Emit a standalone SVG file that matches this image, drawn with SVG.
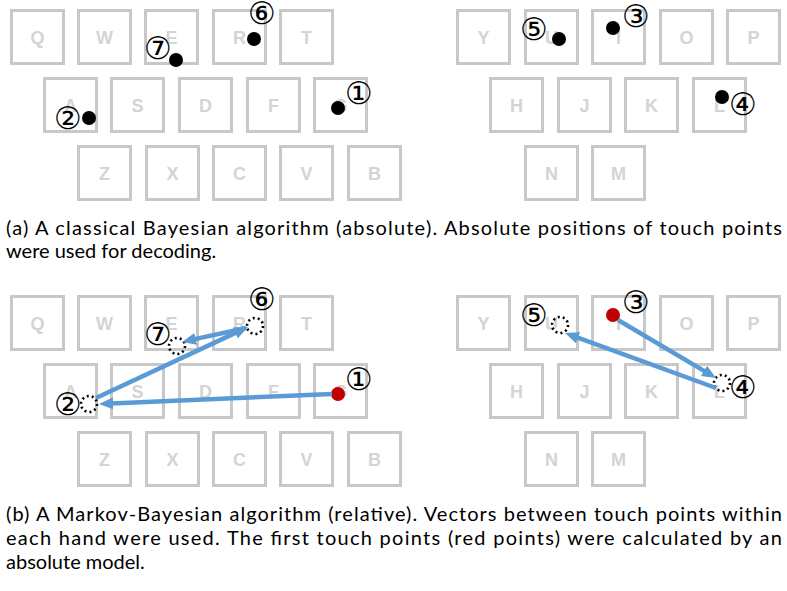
<svg xmlns="http://www.w3.org/2000/svg" width="787" height="591" viewBox="0 0 787 591">
<style>
.kr{fill:#fff;stroke:#c8c8c8;stroke-width:3}
.key text{font-family:"Liberation Sans",Arial,sans-serif;font-weight:bold;font-size:18px;fill:#d4d4d4;text-anchor:middle}
.num{font-family:"DejaVu Sans",sans-serif;font-size:31px;fill:#000;text-anchor:middle}
.dot{fill:#000}
.red{fill:#c00000}
.ghost{fill:none;stroke:#000;stroke-width:2.6;stroke-dasharray:2 3.03}
.arrow{stroke:#5b9bd5;stroke-width:4.5;fill:none;marker-end:url(#ah)}
.cap{font-family:Lato,"Open Sans",sans-serif;font-size:20px;fill:#000}
</style>
<defs>
<marker id="ah" markerUnits="userSpaceOnUse" markerWidth="14" markerHeight="12" refX="2" refY="6" orient="auto" viewBox="0 0 14 12">
<path d="M0,0 L14,6 L0,12 z" fill="#5b9bd5"/>
</marker>
<rect id="k" class="kr" x="1.5" y="1.5" width="52" height="53"/>
</defs>

<!-- ===== Panel (a) ===== -->
<g id="panel-a-left">
<g id="a-Q" class="key" transform="translate(10,9)"><use href="#k"/><text x="27.5" y="35">Q</text></g>
<g id="a-W" class="key" transform="translate(77,9)"><use href="#k"/><text x="27.5" y="35">W</text></g>
<g id="a-E" class="key" transform="translate(144,9)"><use href="#k"/><text x="27.5" y="35">E</text></g>
<g id="a-R" class="key" transform="translate(212,9)"><use href="#k"/><text x="27.5" y="35">R</text></g>
<g id="a-T" class="key" transform="translate(279,9)"><use href="#k"/><text x="27.5" y="35">T</text></g>
<g id="a-A" class="key" transform="translate(43,77)"><use href="#k"/><text x="27.5" y="35">A</text></g>
<g id="a-S" class="key" transform="translate(110,77)"><use href="#k"/><text x="27.5" y="35">S</text></g>
<g id="a-D" class="key" transform="translate(178,77)"><use href="#k"/><text x="27.5" y="35">D</text></g>
<g id="a-F" class="key" transform="translate(246,77)"><use href="#k"/><text x="27.5" y="35">F</text></g>
<g id="a-G" class="key" transform="translate(313,77)"><use href="#k"/><text x="27.5" y="35">G</text></g>
<g id="a-Z" class="key" transform="translate(77,145)"><use href="#k"/><text x="27.5" y="35">Z</text></g>
<g id="a-X" class="key" transform="translate(145,145)"><use href="#k"/><text x="27.5" y="35">X</text></g>
<g id="a-C" class="key" transform="translate(212,145)"><use href="#k"/><text x="27.5" y="35">C</text></g>
<g id="a-V" class="key" transform="translate(279,145)"><use href="#k"/><text x="27.5" y="35">V</text></g>
<g id="a-B" class="key" transform="translate(347,145)"><use href="#k"/><text x="27.5" y="35">B</text></g>
</g>
<g id="panel-a-right">
<g id="a-Y" class="key" transform="translate(456,9)"><use href="#k"/><text x="27.5" y="35">Y</text></g>
<g id="a-U" class="key" transform="translate(524,9)"><use href="#k"/><text x="27.5" y="35">U</text></g>
<g id="a-I" class="key" transform="translate(591,9)"><use href="#k"/><text x="27.5" y="35">I</text></g>
<g id="a-O" class="key" transform="translate(659,9)"><use href="#k"/><text x="27.5" y="35">O</text></g>
<g id="a-P" class="key" transform="translate(726,9)"><use href="#k"/><text x="27.5" y="35">P</text></g>
<g id="a-H" class="key" transform="translate(489,77)"><use href="#k"/><text x="27.5" y="35">H</text></g>
<g id="a-J" class="key" transform="translate(557,77)"><use href="#k"/><text x="27.5" y="35">J</text></g>
<g id="a-K" class="key" transform="translate(624,77)"><use href="#k"/><text x="27.5" y="35">K</text></g>
<g id="a-L" class="key" transform="translate(692,77)"><use href="#k"/><text x="27.5" y="35">L</text></g>
<g id="a-N" class="key" transform="translate(524,145)"><use href="#k"/><text x="27.5" y="35">N</text></g>
<g id="a-M" class="key" transform="translate(591,145)"><use href="#k"/><text x="27.5" y="35">M</text></g>
</g>
<g id="a-touches">
<g id="a-t1"><circle class="dot" cx="338" cy="108" r="7"/><text class="num" x="359" y="104">①</text></g>
<g id="a-t2"><circle class="dot" cx="89" cy="118" r="7"/><text class="num" x="68" y="129">②</text></g>
<g id="a-t3"><circle class="dot" cx="613" cy="28" r="7"/><text class="num" x="636" y="27">③</text></g>
<g id="a-t4"><circle class="dot" cx="722" cy="97" r="7"/><text class="num" x="743" y="115">④</text></g>
<g id="a-t5"><circle class="dot" cx="559" cy="39" r="7"/><text class="num" x="534" y="40">⑤</text></g>
<g id="a-t6"><circle class="dot" cx="254" cy="39" r="7"/><text class="num" x="262" y="24">⑥</text></g>
<g id="a-t7"><circle class="dot" cx="176" cy="60" r="7"/><text class="num" x="158" y="59">⑦</text></g>
</g>
<text class="cap" x="6" y="235" textLength="776" lengthAdjust="spacing">(a) A classical Bayesian algorithm (absolute). Absolute positions of touch points</text>
<text class="cap" x="6" y="258">were used for decoding.</text>

<!-- ===== Panel (b) ===== -->
<g id="panel-b-left" transform="translate(0,286)">
<g id="b-Q" class="key" transform="translate(10,9)"><use href="#k"/><text x="27.5" y="35">Q</text></g>
<g id="b-W" class="key" transform="translate(77,9)"><use href="#k"/><text x="27.5" y="35">W</text></g>
<g id="b-E" class="key" transform="translate(144,9)"><use href="#k"/><text x="27.5" y="35">E</text></g>
<g id="b-R" class="key" transform="translate(212,9)"><use href="#k"/><text x="27.5" y="35">R</text></g>
<g id="b-T" class="key" transform="translate(279,9)"><use href="#k"/><text x="27.5" y="35">T</text></g>
<g id="b-A" class="key" transform="translate(43,77)"><use href="#k"/><text x="27.5" y="35">A</text></g>
<g id="b-S" class="key" transform="translate(110,77)"><use href="#k"/><text x="27.5" y="35">S</text></g>
<g id="b-D" class="key" transform="translate(178,77)"><use href="#k"/><text x="27.5" y="35">D</text></g>
<g id="b-F" class="key" transform="translate(246,77)"><use href="#k"/><text x="27.5" y="35">F</text></g>
<g id="b-G" class="key" transform="translate(313,77)"><use href="#k"/><text x="27.5" y="35">G</text></g>
<g id="b-Z" class="key" transform="translate(77,145)"><use href="#k"/><text x="27.5" y="35">Z</text></g>
<g id="b-X" class="key" transform="translate(145,145)"><use href="#k"/><text x="27.5" y="35">X</text></g>
<g id="b-C" class="key" transform="translate(212,145)"><use href="#k"/><text x="27.5" y="35">C</text></g>
<g id="b-V" class="key" transform="translate(279,145)"><use href="#k"/><text x="27.5" y="35">V</text></g>
<g id="b-B" class="key" transform="translate(347,145)"><use href="#k"/><text x="27.5" y="35">B</text></g>
</g>
<g id="panel-b-right" transform="translate(0,286)">
<g id="b-Y" class="key" transform="translate(456,9)"><use href="#k"/><text x="27.5" y="35">Y</text></g>
<g id="b-U" class="key" transform="translate(524,9)"><use href="#k"/><text x="27.5" y="35">U</text></g>
<g id="b-I" class="key" transform="translate(591,9)"><use href="#k"/><text x="27.5" y="35">I</text></g>
<g id="b-O" class="key" transform="translate(659,9)"><use href="#k"/><text x="27.5" y="35">O</text></g>
<g id="b-P" class="key" transform="translate(726,9)"><use href="#k"/><text x="27.5" y="35">P</text></g>
<g id="b-H" class="key" transform="translate(489,77)"><use href="#k"/><text x="27.5" y="35">H</text></g>
<g id="b-J" class="key" transform="translate(557,77)"><use href="#k"/><text x="27.5" y="35">J</text></g>
<g id="b-K" class="key" transform="translate(624,77)"><use href="#k"/><text x="27.5" y="35">K</text></g>
<g id="b-L" class="key" transform="translate(692,77)"><use href="#k"/><text x="27.5" y="35">L</text></g>
<g id="b-N" class="key" transform="translate(524,145)"><use href="#k"/><text x="27.5" y="35">N</text></g>
<g id="b-M" class="key" transform="translate(591,145)"><use href="#k"/><text x="27.5" y="35">M</text></g>
</g>
<g id="b-touches">
<g id="b-t1"><circle class="red" cx="338" cy="394" r="7"/><text class="num" x="359" y="390">①</text></g>
<g id="b-t2"><circle class="ghost" cx="89" cy="404" r="8"/><text class="num" x="68" y="415">②</text></g>
<g id="b-t3"><circle class="red" cx="613" cy="315" r="7"/><text class="num" x="636" y="313">③</text></g>
<g id="b-t4"><circle class="ghost" cx="722" cy="383" r="8"/><text class="num" x="743" y="398">④</text></g>
<g id="b-t5"><circle class="ghost" cx="560" cy="325" r="8"/><text class="num" x="534" y="326">⑤</text></g>
<g id="b-t6"><circle class="ghost" cx="255" cy="326" r="8"/><text class="num" x="262" y="310">⑥</text></g>
<g id="b-t7"><circle class="ghost" cx="177" cy="346" r="8"/><text class="num" x="158" y="345">⑦</text></g>
</g>
<g id="connectors">
<line class="arrow" x1="332" y1="394" x2="111" y2="403.5"/>
<line class="arrow" x1="96" y1="398" x2="237.1" y2="332.1"/>
<line class="arrow" x1="246" y1="328" x2="193.7" y2="339.4"/>
<line class="arrow" x1="618" y1="320" x2="705.7" y2="371.9"/>
<line class="arrow" x1="716" y1="388" x2="576.3" y2="337.1"/>
</g>
<text class="cap" x="6" y="521" textLength="776" lengthAdjust="spacing">(b) A Markov-Bayesian algorithm (relative). Vectors between touch points within</text>
<text class="cap" x="6" y="545" textLength="776" lengthAdjust="spacing">each hand were used. The first touch points (red points) were calculated by an</text>
<text class="cap" x="6" y="569">absolute model.</text>
</svg>
